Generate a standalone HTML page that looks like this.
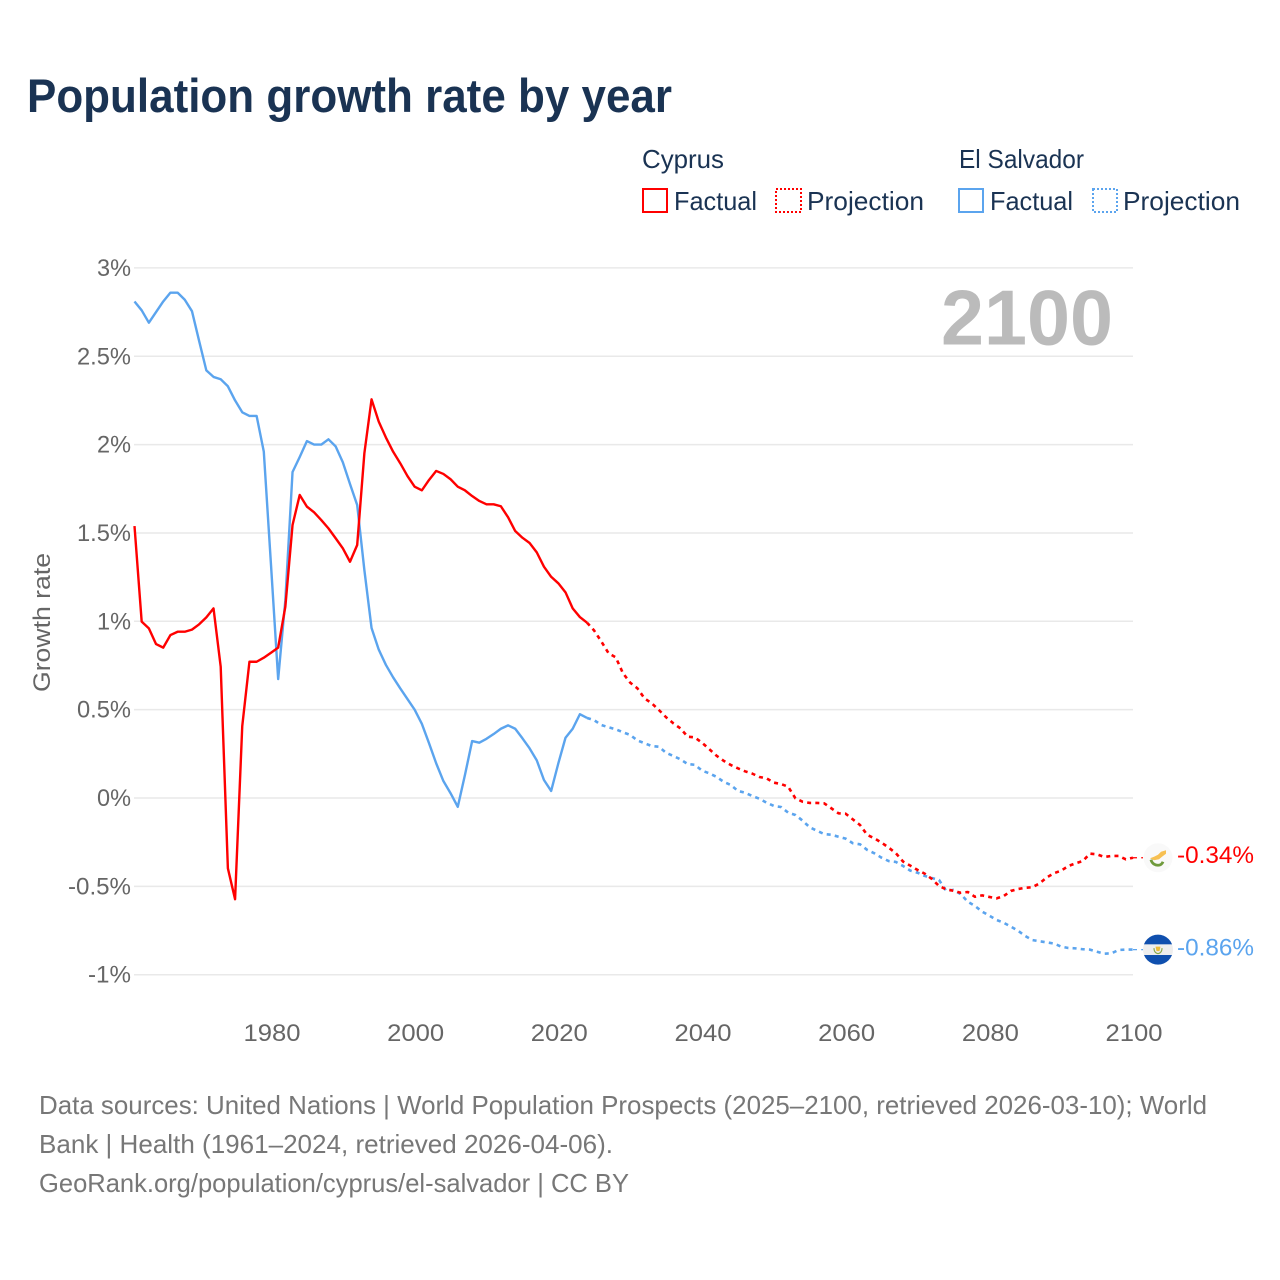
<!DOCTYPE html>
<html lang="en">
<head>
<meta charset="utf-8">
<title>Population growth rate by year</title>
<style>
html,body{margin:0;padding:0;background:#fff;}
svg{display:block;font-family:"Liberation Sans",sans-serif;}
</style>
</head>
<body>
<svg id="chart" xmlns="http://www.w3.org/2000/svg" width="1280" height="1280" viewBox="0 0 1280 1280">
  <rect x="0" y="0" width="1280" height="1280" fill="#ffffff"/>
  <text x="27" y="112" font-size="47" font-weight="700" fill="#1a3353" textLength="645" lengthAdjust="spacingAndGlyphs">Population growth rate by year</text>

  <g font-size="26" fill="#1a3353">
    <text x="642" y="168" textLength="82" lengthAdjust="spacingAndGlyphs">Cyprus</text>
    <text x="959" y="168" textLength="125" lengthAdjust="spacingAndGlyphs">El Salvador</text>
    <g>
      <rect x="643" y="189" width="24" height="23" fill="none" stroke="#ff0000" stroke-width="2"/>
      <text x="674" y="210" textLength="83" lengthAdjust="spacingAndGlyphs">Factual</text>
    </g>
    <g>
      <rect x="776" y="189" width="25" height="23" fill="none" stroke="#ff0000" stroke-width="2" stroke-dasharray="2 2"/>
      <text x="807" y="210" textLength="117" lengthAdjust="spacingAndGlyphs">Projection</text>
    </g>
    <g>
      <rect x="959" y="189" width="24" height="23" fill="none" stroke="#5ba4ee" stroke-width="2"/>
      <text x="990" y="210" textLength="83" lengthAdjust="spacingAndGlyphs">Factual</text>
    </g>
    <g>
      <rect x="1093" y="189" width="24" height="23" fill="none" stroke="#5ba4ee" stroke-width="2" stroke-dasharray="2 2"/>
      <text x="1123" y="210" textLength="117" lengthAdjust="spacingAndGlyphs">Projection</text>
    </g>
  </g>

  <g id="grid"></g>
  <g id="yticks"></g>
  <g id="xticks"></g>
  <text transform="translate(50,622.5) rotate(-90)" text-anchor="middle" font-size="24" fill="#666666" textLength="139" lengthAdjust="spacingAndGlyphs">Growth rate</text>
  <text x="941" y="344.5" font-size="78" font-weight="700" fill="#bbbbbb" textLength="172" lengthAdjust="spacingAndGlyphs">2100</text>
  <g id="series"></g>

  <g id="flag-cyprus">
    <circle cx="0" cy="0" r="14.5" fill="#f9f9f9"/>
    <path d="M-8,0.5 L-4,-1 L0,-3 L3,-6 L8,-7.5 L8,-4 L4,-1 L1,1.5 L-4,2.5 Z" fill="#f7c052"/>
    <path d="M-7,2 C-6,6.5 -2,7.5 0,7.5 C2,7.5 4,6.5 5,4" fill="none" stroke="#6f9a3c" stroke-width="2.8"/>
  </g>
  <g id="flag-el-salvador">
    <clipPath id="sv-clip"><circle cx="0" cy="0" r="15"/></clipPath>
    <g clip-path="url(#sv-clip)">
      <rect x="-16" y="-16" width="32" height="10.8" fill="#0f4fae"/>
      <rect x="-16" y="-5.2" width="32" height="10.6" fill="#eeeeee"/>
      <rect x="-16" y="5.4" width="32" height="11" fill="#0f4fae"/>
    </g>
    <path d="M-2.5,-3 L2.5,-3 L1.5,1.5 L-1.5,1.5 Z" fill="#eebc3a"/>
    <path d="M-4,-1.5 C-4,3 -1,4 0,4 C1,4 4,3 4,-1.5" fill="none" stroke="#8aa84a" stroke-width="1.2"/>
  </g>
  <text id="label-cyprus" x="1177" font-size="24" fill="#ff0000" textLength="77" lengthAdjust="spacingAndGlyphs"></text>
  <text id="label-el-salvador" x="1177" font-size="24" fill="#5ba4ee" textLength="77" lengthAdjust="spacingAndGlyphs"></text>

  <g font-size="26" fill="#777777">
    <text x="39" y="1114" textLength="1168" lengthAdjust="spacingAndGlyphs">Data sources: United Nations | World Population Prospects (2025–2100, retrieved 2026-03-10); World</text>
    <text x="39" y="1153" textLength="574" lengthAdjust="spacingAndGlyphs">Bank | Health (1961–2024, retrieved 2026-04-06).</text>
    <text x="39" y="1192" textLength="590" lengthAdjust="spacingAndGlyphs">GeoRank.org/population/cyprus/el-salvador | CC BY</text>
  </g>
</svg>
<script>
const yTickValues = [3, 2.5, 2, 1.5, 1, 0.5, 0, -0.5, -1];
const yTickLabels = ["3%", "2.5%", "2%", "1.5%", "1%", "0.5%", "0%", "-0.5%", "-1%"];
const xTickYears = [1980, 2000, 2020, 2040, 2060, 2080, 2100];
const factualStartYear = 1961;
const projectionStartYear = 2024;
const cyprusFactual = [1.539,0.998,0.96,0.871,0.851,0.922,0.941,0.941,0.953,0.983,1.022,1.073,0.743,-0.398,-0.573,0.407,0.771,0.771,0.794,0.822,0.851,1.083,1.545,1.715,1.649,1.617,1.573,1.526,1.47,1.413,1.337,1.432,1.951,2.256,2.13,2.04,1.96,1.894,1.822,1.762,1.741,1.8,1.851,1.834,1.804,1.762,1.741,1.709,1.681,1.662,1.662,1.651,1.589,1.511,1.473,1.443,1.39,1.309,1.252,1.215,1.164,1.073,1.024,0.992];
const cyprusProjection = [0.992,0.947,0.885,0.819,0.796,0.706,0.653,0.621,0.564,0.536,0.498,0.457,0.423,0.394,0.347,0.343,0.313,0.277,0.24,0.211,0.187,0.168,0.151,0.138,0.119,0.111,0.087,0.079,0.064,-0.002,-0.021,-0.028,-0.028,-0.03,-0.058,-0.087,-0.089,-0.121,-0.153,-0.209,-0.228,-0.253,-0.281,-0.313,-0.36,-0.383,-0.407,-0.428,-0.458,-0.498,-0.517,-0.525,-0.536,-0.532,-0.559,-0.551,-0.56,-0.568,-0.555,-0.526,-0.515,-0.508,-0.505,-0.483,-0.449,-0.426,-0.411,-0.385,-0.37,-0.357,-0.315,-0.319,-0.334,-0.328,-0.328,-0.347,-0.338];
const salvadorFactual = [2.81,2.76,2.69,2.75,2.81,2.86,2.86,2.82,2.755,2.586,2.42,2.383,2.37,2.33,2.25,2.183,2.162,2.162,1.96,1.32,0.673,1.12,1.845,1.93,2.02,2.0,2.0,2.03,1.99,1.9,1.777,1.658,1.29,0.962,0.84,0.753,0.683,0.62,0.56,0.5,0.42,0.31,0.196,0.096,0.027,-0.05,0.13,0.322,0.313,0.335,0.362,0.392,0.411,0.392,0.338,0.281,0.213,0.102,0.04,0.196,0.341,0.392,0.474,0.453];
const salvadorProjection = [0.453,0.44,0.413,0.4,0.389,0.372,0.357,0.326,0.31,0.294,0.29,0.256,0.238,0.219,0.192,0.188,0.155,0.14,0.12,0.092,0.074,0.04,0.03,0.011,-0.004,-0.027,-0.045,-0.051,-0.083,-0.096,-0.128,-0.166,-0.185,-0.204,-0.208,-0.219,-0.23,-0.256,-0.262,-0.294,-0.313,-0.338,-0.357,-0.362,-0.385,-0.411,-0.423,-0.441,-0.453,-0.464,-0.526,-0.52,-0.543,-0.587,-0.611,-0.643,-0.666,-0.69,-0.706,-0.728,-0.751,-0.781,-0.804,-0.811,-0.817,-0.824,-0.841,-0.849,-0.851,-0.856,-0.858,-0.87,-0.881,-0.879,-0.86,-0.858,-0.858];
const cyprusEndLabel = "-0.34%";
const salvadorEndLabel = "-0.86%";

const NS = "http://www.w3.org/2000/svg";
const RED = "#ff0000";
const BLUE = "#5ba4ee";
function xScale(year) { return 134.5 + (year - 1961) * (1133 - 134.5) / 139; }
function yScale(value) { return 798 - value * 176.7; }
function labelWidth(s) {
  let w = 0;
  for (const c of s) w += c === "%" ? 20 : c === "." ? 6 : c === "-" ? 9 : 14;
  return w;
}
function linePath(values, startYear) {
  return values.map(function (v, i) {
    return (i ? "L" : "M") + xScale(startYear + i).toFixed(2) + "," + yScale(v).toFixed(2);
  }).join(" ");
}

const gridGroup = document.getElementById("grid");
const yGroup = document.getElementById("yticks");
yTickValues.forEach(function (v, i) {
  const line = document.createElementNS(NS, "line");
  
  
  line.setAttribute("x1", 134);
  line.setAttribute("x2", 1133);
  line.setAttribute("y1", yScale(v));
  line.setAttribute("y2", yScale(v));
  line.setAttribute("stroke", "#e9e9e9");
  line.setAttribute("stroke-width", "1.5");
  gridGroup.appendChild(line);
  const t = document.createElementNS(NS, "text");
  
  
  t.setAttribute("x", 131);
  t.setAttribute("y", yScale(v) + 8);
  t.setAttribute("text-anchor", "end");
  t.setAttribute("font-size", "24");
  t.setAttribute("fill", "#666666");
  t.setAttribute("textLength", labelWidth(yTickLabels[i]));
  t.setAttribute("lengthAdjust", "spacingAndGlyphs");
  t.textContent = yTickLabels[i];
  yGroup.appendChild(t);
});

const xGroup = document.getElementById("xticks");
xTickYears.forEach(function (yr) {
  const t = document.createElementNS(NS, "text");
  
  
  t.setAttribute("x", xScale(yr) + 1);
  t.setAttribute("y", 1041);
  t.setAttribute("text-anchor", "middle");
  t.setAttribute("font-size", "24");
  t.setAttribute("fill", "#666666");
  t.setAttribute("textLength", 57);
  t.setAttribute("lengthAdjust", "spacingAndGlyphs");
  t.textContent = String(yr);
  xGroup.appendChild(t);
});

const seriesGroup = document.getElementById("series");
function addLine(d, color, dashed) {
  const p = document.createElementNS(NS, "path");
  p.setAttribute("d", d);
  p.setAttribute("fill", "none");
  p.setAttribute("stroke", color);
  p.setAttribute("stroke-linejoin", "round");
  p.setAttribute("stroke-width", dashed ? "2.6" : "2.4");
  if (dashed) p.setAttribute("stroke-dasharray", "4 4.2");
  seriesGroup.appendChild(p);
  return p;
}
const pathSalvadorF = addLine(linePath(salvadorFactual, factualStartYear), BLUE, false);


const pathSalvadorP = addLine(linePath(salvadorProjection, projectionStartYear), BLUE, true);


const pathCyprusF = addLine(linePath(cyprusFactual, factualStartYear), RED, false);


const pathCyprusP = addLine(linePath(cyprusProjection, projectionStartYear), RED, true);



const cyprusEnd = yScale(cyprusProjection[cyprusProjection.length - 1]);
const salvadorEnd = yScale(salvadorProjection[salvadorProjection.length - 1]);
const connectorCyprus = addLine("M" + xScale(2100) + "," + cyprusEnd + " L1143," + cyprusEnd, RED, true);


connectorCyprus.setAttribute("stroke-width", "1.2");
const connectorSalvador = addLine("M" + xScale(2100) + "," + salvadorEnd + " L1143," + salvadorEnd, BLUE, true);


connectorSalvador.setAttribute("stroke-width", "1.2");

document.getElementById("flag-cyprus").setAttribute("transform", "translate(1158," + cyprusEnd + ")");
document.getElementById("flag-el-salvador").setAttribute("transform", "translate(1158," + salvadorEnd + ")");
const labelC = document.getElementById("label-cyprus");
labelC.setAttribute("y", cyprusEnd + 5.5);
labelC.textContent = cyprusEndLabel;
const labelS = document.getElementById("label-el-salvador");
labelS.setAttribute("y", salvadorEnd + 6);
labelS.textContent = salvadorEndLabel;
</script>
</body>
</html>
